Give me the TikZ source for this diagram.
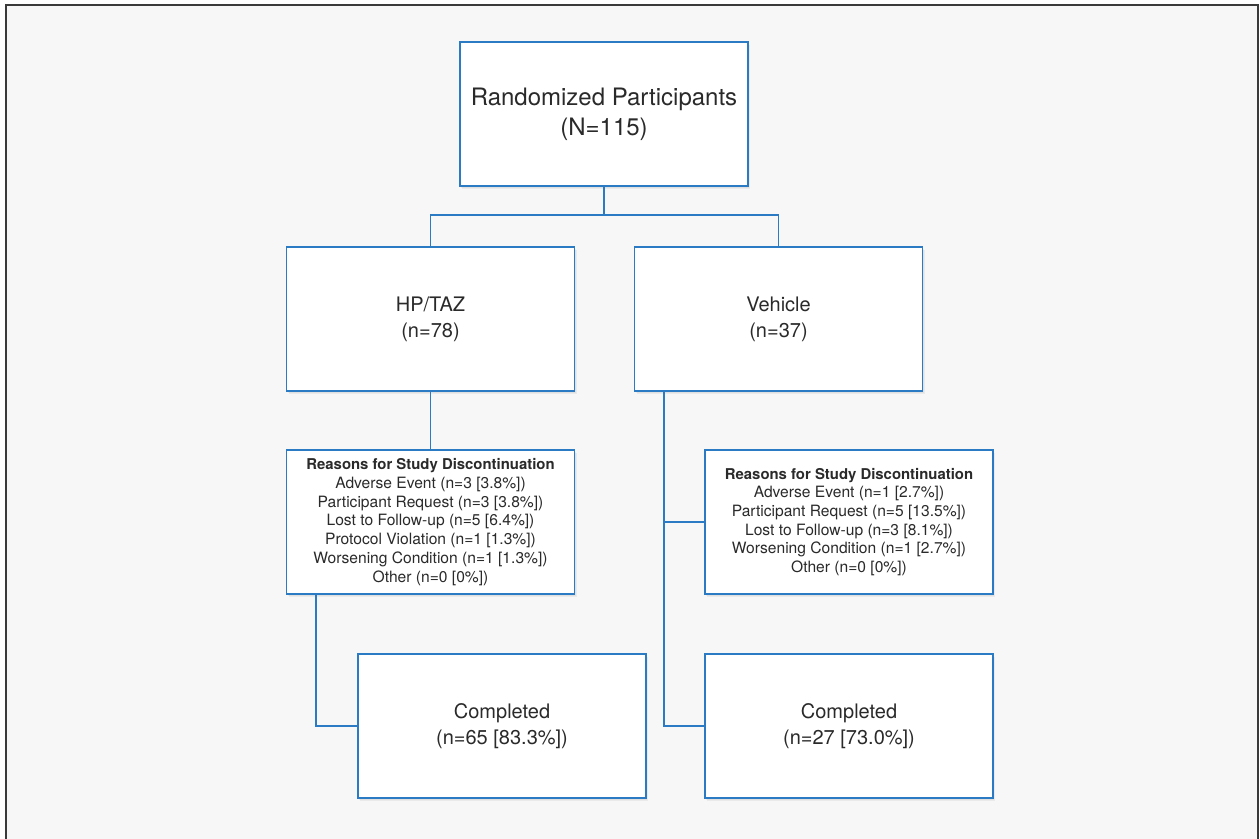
\documentclass[tikz,border=0pt]{standalone}
\usepackage{fontspec}
\setmainfont{TeX Gyre Heros}
\usetikzlibrary{shadows}
\definecolor{lineblue}{HTML}{2A7BC4}
\definecolor{txt}{HTML}{2A2A2A}
\definecolor{bg}{HTML}{F7F7F7}
\definecolor{frame}{HTML}{3A3A3A}
\tikzset{
  box/.style={draw=lineblue, line width=1.8pt, fill=white, text=txt, align=center,
    inner sep=0pt, minimum width=288pt, minimum height=144pt,
    general shadow={fill=black, opacity=0.04, shadow xshift=1pt, shadow yshift=-2pt, scale=1.03},
    general shadow={fill=black, opacity=0.05, shadow xshift=2pt, shadow yshift=-3pt, scale=1.01}},
  bigtext/.style={font=\fontsize{24}{30}\selectfont},
  midtext/.style={font=\fontsize{20}{26}\selectfont},
  smalltext/.style={font=\fontsize{15.6}{18.7}\selectfont},
  conn/.style={draw=lineblue, line width=1.8pt}
}
\newcommand{\rhead}[1]{{\fontsize{14.9}{18.7}\selectfont\bfseries #1}}
\begin{document}
\begin{tikzpicture}[x=1pt,y=-1pt]
\useasboundingbox (0,0) rectangle (1260,838);
\fill[white] (0,0) rectangle (1260,838);
\fill[bg] (6,5) rectangle (1258,840);
\draw[frame, line width=1.8pt] (6,840) -- (6,5) -- (1258,5) -- (1258,840);

\node[box, bigtext] (top) at (604,114) {Randomized Participants\\(N=115)};
\node[box, midtext] (hp) at (430.5,319) {HP/TAZ\\(n=78)};
\node[box, midtext] (veh) at (778.5,319) {Vehicle\\(n=37)};
\node[box, smalltext] (r1) at (430.5,522) {\rhead{Reasons for Study Discontinuation}\\Adverse Event (n=3 [3.8\%])\\Participant Request (n=3 [3.8\%])\\Lost to Follow-up (n=5 [6.4\%])\\Protocol Violation (n=1 [1.3\%])\\Worsening Condition (n=1 [1.3\%])\\Other (n=0 [0\%])};
\node[box, smalltext] (r2) at (849,522) {\rhead{Reasons for Study Discontinuation}\\Adverse Event (n=1 [2.7\%])\\Participant Request (n=5 [13.5\%])\\Lost to Follow-up (n=3 [8.1\%])\\Worsening Condition (n=1 [2.7\%])\\Other (n=0 [0\%])};
\node[box, midtext] (c1) at (502,726) {Completed\\(n=65 [83.3\%])};
\node[box, midtext] (c2) at (849,726) {Completed\\(n=27 [73.0\%])};

\coordinate (j) at (604,215);
\draw[conn] (top.south) -- (j);
\draw[conn] (hp.north) |- (j) -| (veh.north);
\draw[conn] (hp.south) -- (r1.north);
\coordinate (v0) at ([xshift=30pt]veh.south west);
\draw[conn] (v0) |- (c2.west);
\draw[conn] (v0 |- r2.west) -- (r2.west);
\coordinate (l0) at ([xshift=30pt]r1.south west);
\draw[conn] (l0) |- (c1.west);
\end{tikzpicture}
\end{document}
